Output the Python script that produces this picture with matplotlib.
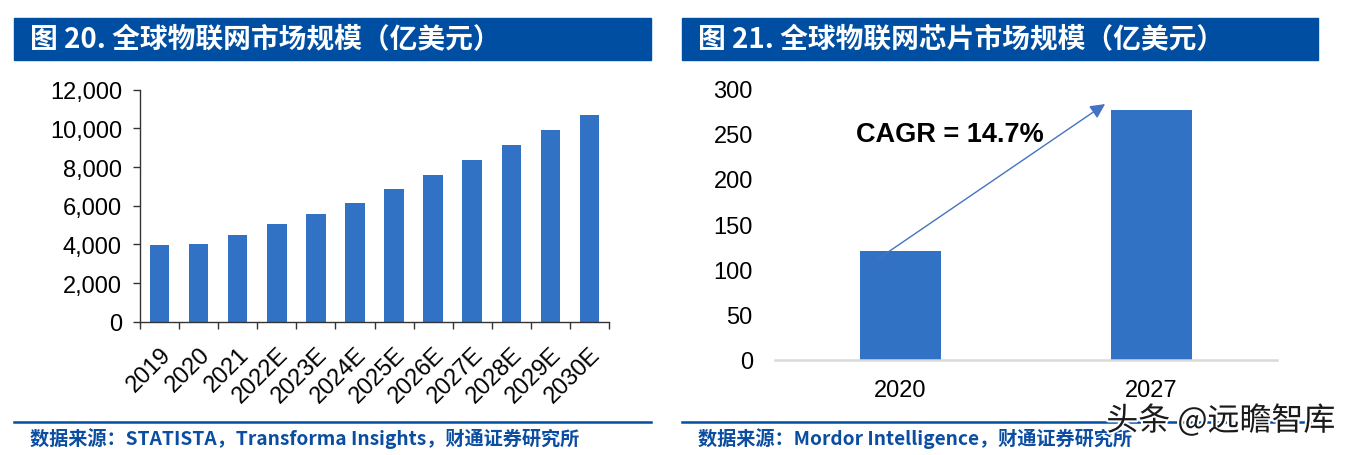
import matplotlib
matplotlib.use("Agg")
import matplotlib.pyplot as plt
from matplotlib.patches import Rectangle
import matplotlib.patheffects as pe
from matplotlib.ticker import FuncFormatter

# 数据
years_l = ['2019', '2020', '2021', '2022E', '2023E', '2024E', '2025E',
           '2026E', '2027E', '2028E', '2029E', '2030E']
iot_market = [3960, 4000, 4500, 5050, 5550, 6150, 6860, 7570, 8340, 9120, 9910, 10690]

years_r = ['2020', '2027']
chip_market = [120, 276]
cagr_text = 'CAGR = 14.7%'

title_l = '图 20. 全球物联网市场规模（亿美元）'
title_r = '图 21. 全球物联网芯片市场规模（亿美元）'
source_l = '数据来源：STATISTA，Transforma Insights，财通证券研究所'
source_r = '数据来源：Mordor Intelligence，财通证券研究所'
watermark = '头条 @远瞻智库'

BAR = '#3172C4'
NAVY = '#004EA2'
CJK = ['Noto Sans CJK SC', 'DejaVu Sans']
NUM = 'Liberation Sans'

W, H = 1360, 456
fig = plt.figure(figsize=(W / 100, H / 100), dpi=100)


def fx(px):
    return px / W


def fy(py):
    return 1 - py / H


# 标题栏
for x0, x1, t in [(14, 651, title_l), (682, 1318, title_r)]:
    fig.patches.append(Rectangle((fx(x0), fy(61)), fx(x1 - x0), (61 - 19) / H,
                                 transform=fig.transFigure, color=NAVY, zorder=0))
    fig.text(fx(x0 + 16), fy(40), t, color='white', fontsize=20, fontweight='bold',
             family=CJK, va='center', ha='left')

# 底部线和来源
for x0, x1, t in [(14, 651, source_l), (682, 1318, source_r)]:
    fig.add_artist(plt.Line2D([fx(x0), fx(x1)], [fy(423), fy(423)],
                              transform=fig.transFigure, color=NAVY, lw=1.8))
    fig.text(fx(x0 + 16), fy(439), t, color='#0B4DA0', fontsize=13.8, fontweight='bold',
             family=CJK, va='center', ha='left')

# 左图
ax1 = fig.add_axes([fx(140), fy(322.7), fx(469), 232 / H])
x = range(len(years_l))
ax1.bar(x, iot_market, width=0.5, color=BAR)
ax1.set_xlim(-0.5, len(years_l) - 0.5)
ax1.set_ylim(0, 12000)
ax1.set_yticks(range(0, 12001, 2000))
ax1.yaxis.set_major_formatter(FuncFormatter(lambda v, p: f'{int(v):,}'))
ax1.set_xticks(list(x))
ax1.set_xticklabels(years_l, rotation=45, ha='right', va='top', rotation_mode='anchor')
ax1.set_xticks([i - 0.5 for i in range(len(years_l) + 1)], minor=True)
ax1.tick_params(axis='x', which='major', length=0, pad=15, labelsize=17, labelfontfamily=NUM)
ax1.tick_params(axis='x', which='minor', length=5, width=1, color='#333333')
ax1.tick_params(axis='y', length=5, width=1, color='#333333', labelsize=17,
                labelfontfamily=NUM, pad=8)
for s in ['top', 'right']:
    ax1.spines[s].set_visible(False)
for s in ['left', 'bottom']:
    ax1.spines[s].set_color('#333333')
    ax1.spines[s].set_linewidth(1)

# 右图
ax2 = fig.add_axes([fx(775), fy(361), fx(502), 271.7 / H])
x2 = range(len(years_r))
ax2.bar(x2, chip_market, width=0.32, color=BAR)
ax2.set_xlim(-0.5, len(years_r) - 0.5)
ax2.set_ylim(0, 300)
ax2.set_yticks(range(0, 301, 50))
ax2.set_xticks(list(x2))
ax2.set_xticklabels(years_r)
ax2.tick_params(axis='x', length=0, pad=14, labelsize=17, labelfontfamily=NUM)
ax2.tick_params(axis='y', length=0, pad=16, labelsize=17, labelfontfamily=NUM)
for s in ['top', 'right', 'left']:
    ax2.spines[s].set_visible(False)
ax2.spines['bottom'].set_color('#D9D9D9')
ax2.spines['bottom'].set_linewidth(1.8)

ax2.annotate('', xy=(0.815, 282.6), xytext=(-0.09, 111.5),
             arrowprops=dict(arrowstyle='-|>', color='#4472C4', lw=1,
                             mutation_scale=22, shrinkA=0, shrinkB=0))
ax2.text(-0.177, 249.5, cagr_text, fontsize=19.5, fontweight='bold', family=NUM,
         va='center', ha='left')

# 水印
fig.text(fx(1221), fy(422), watermark, fontsize=23, family=CJK, color='#1a1a1a',
         ha='center', va='center',
         path_effects=[pe.withStroke(linewidth=3, foreground='white')])

fig.savefig('out.png', dpi=100)
